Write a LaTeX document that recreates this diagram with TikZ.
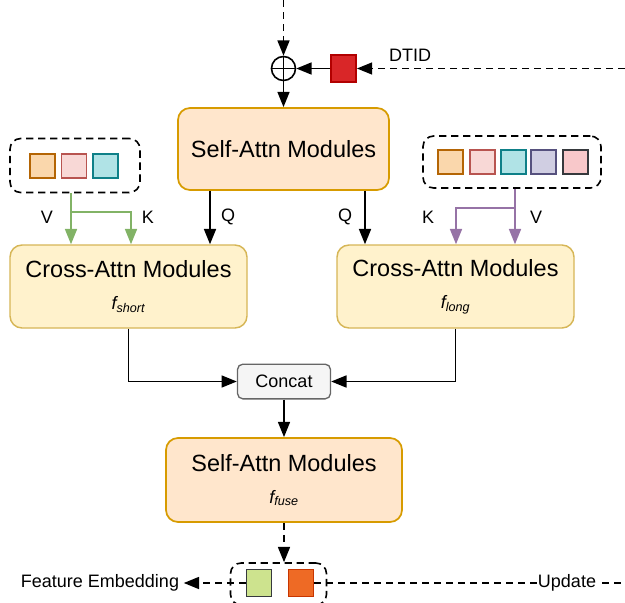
\documentclass[tikz,border=0pt]{standalone}
\usepackage{fontspec}
\setmainfont{Liberation Sans}
\usetikzlibrary{arrows.meta}

\definecolor{selfFill}{HTML}{FFE6CC}
\definecolor{selfLine}{HTML}{D79B00}
\definecolor{crossFill}{HTML}{FFF2CC}
\definecolor{crossLine}{HTML}{D6B656}
\definecolor{catFill}{HTML}{F5F5F5}
\definecolor{catLine}{HTML}{666666}
\definecolor{kvGreen}{HTML}{82B366}
\definecolor{kvPurple}{HTML}{9673A6}
\definecolor{tokOrange}{HTML}{FAD7AC}
\definecolor{tokOrangeLine}{HTML}{B46504}
\definecolor{tokPink}{HTML}{F8D8D6}
\definecolor{tokPinkLine}{HTML}{B85450}
\definecolor{tokTeal}{HTML}{B0E3E6}
\definecolor{tokTealLine}{HTML}{0E8088}
\definecolor{tokPurple}{HTML}{D0CEE2}
\definecolor{tokPurpleLine}{HTML}{56517E}
\definecolor{tokRose}{HTML}{F8C8CA}
\definecolor{tokDark}{HTML}{36393D}
\definecolor{tokLime}{HTML}{CDE38E}
\definecolor{tokFire}{HTML}{EE6A25}
\definecolor{tokFireLine}{HTML}{C73500}
\definecolor{dtidRed}{HTML}{D92628}
\definecolor{dtidLine}{HTML}{B20000}

\tikzset{
  module/.style={draw, rounded corners=9pt, line width=1.3pt, align=center,
    font=\fontsize{17.6}{21}\selectfont},
  selfmod/.style={module, fill=selfFill, draw=selfLine},
  crossmod/.style={module, fill=crossFill, draw=crossLine, line width=1.1pt},
  group/.style={draw, dash pattern=on 5.5pt off 3.5pt, rounded corners=8pt, line width=1.2pt},
  token/.style={draw, line width=1.2pt, minimum width=18.5pt, minimum height=18pt, inner sep=0pt},
  lbl/.style={font=\fontsize{13.5}{15}\selectfont},
  arr/.style={-{Triangle[length=11.5pt,width=9pt]}, line width=1.3pt},
  dashline/.style={dash pattern=on 5.5pt off 3.5pt, line width=1.3pt},
  oplus/.style={circle, draw, line width=1.2pt, minimum size=18pt, inner sep=0pt,
    path picture={\draw[line width=1.2pt] (path picture bounding box.north) -- (path picture bounding box.south)
      (path picture bounding box.west) -- (path picture bounding box.east);}},
}
\newcommand{\fsub}[1]{{\fontsize{13.5}{15}\selectfont\itshape f\textsubscript{#1}}}

\begin{document}
\begin{tikzpicture}[x=0.75pt,y=-0.75pt]
\useasboundingbox (0,0) rectangle (625,603);

% DTID injection
\coordinate (topin) at (283.5,0);
\coordinate (dtidin) at (625,68.5);
\node[oplus] (plus) at (283.5,68.5) {};
\node[draw=dtidLine, fill=dtidRed, line width=1.1pt, minimum width=19pt, minimum height=20pt, inner sep=0pt] (dtid) at (343.5,68.5) {};
\node[lbl] (dtidlbl) at (410,55) {DTID};

% modules
\node[selfmod, minimum width=158.25pt, minimum height=61.5pt] (sa1) at (283.5,149) {Self-Attn Modules};
\node[crossmod, minimum width=177.75pt, minimum height=62.25pt] (cs) at (128.5,286.5) {Cross-Attn Modules\\[3pt]\fsub{short}};
\node[crossmod, minimum width=177.75pt, minimum height=62.25pt] (cl) at (455.5,286.5) {Cross-Attn Modules\\[3pt]\fsub{long}};
\node[draw=catLine, fill=catFill, rounded corners=4pt, line width=1pt, minimum width=69.75pt, minimum height=26pt, lbl] (concat) at (284,381.5) {Concat};
\node[selfmod, minimum width=177pt, minimum height=63pt] (sa2) at (284,480) {Self-Attn Modules\\[3pt]\fsub{fuse}};

% short-term memory
\node[group, minimum width=97.5pt, minimum height=40.5pt] (mshort) at (75,165.5) {};
\node[token, fill=tokOrange, draw=tokOrangeLine] (s1) at (42.5,166) {};
\node[token, fill=tokPink, draw=tokPinkLine] (s2) at (74,166) {};
\node[token, fill=tokTeal, draw=tokTealLine] (s3) at (105.5,166) {};

% long-term memory
\node[group, minimum width=133.5pt, minimum height=39pt] (mlong) at (512,162) {};
\node[token, fill=tokOrange, draw=tokOrangeLine] (l1) at (450.5,162) {};
\node[token, fill=tokPink, draw=tokPinkLine] (l2) at (482.5,162) {};
\node[token, fill=tokTeal, draw=tokTealLine] (l3) at (513.5,162) {};
\node[token, fill=tokPurple, draw=tokPurpleLine] (l4) at (543.5,162) {};
\node[token, fill=tokRose, draw=tokDark] (l5) at (575.5,162) {};

% output
\node[group, minimum width=72pt, minimum height=31.5pt] (mout) at (278.5,584) {};
\node[token, fill=tokLime, draw=tokDark, minimum height=20pt] (gsq) at (259,583) {};
\node[token, fill=tokFire, draw=tokFireLine, minimum height=20pt] (osq) at (301,583) {};
\node[lbl] (feat) at (100,583) {Feature Embedding};
\coordinate (updend) at (625,583);

% x positions of the connectors
\coordinate (q1) at (210,0);
\coordinate (q2) at (365,0);
\coordinate (gv) at (71,212);
\coordinate (gk) at (131,212);
\coordinate (pv) at (515,208);
\coordinate (pk) at (456,208);

\draw[arr, dashline] (topin) -- (plus);
\draw[arr, dashline] (dtidin) -- (dtid);
\draw[arr] (dtid) -- (plus);
\draw[arr] (plus) -- (sa1);

\draw[arr, draw=kvGreen, -{Triangle[length=11.5pt,width=9pt,fill=kvGreen]}] (mshort.south -| gv) -- (cs.north -| gv);
\draw[arr, draw=kvGreen, -{Triangle[length=11.5pt,width=9pt,fill=kvGreen]}] (gv) -| (cs.north -| gk);
\draw[arr, draw=kvPurple, -{Triangle[length=11.5pt,width=9pt,fill=kvPurple]}] (mlong.south -| pv) -- (cl.north -| pv);
\draw[arr, draw=kvPurple, -{Triangle[length=11.5pt,width=9pt,fill=kvPurple]}] (pv) -| (cl.north -| pk);
\draw[arr] (sa1.south -| q1) -- (cs.north -| q1);
\draw[arr] (sa1.south -| q2) -- (cl.north -| q2);

\node[lbl] at (47,217) {V};
\node[lbl] at (148,217) {K};
\node[lbl] at (228,217) {Q};
\node[lbl] at (345,217) {Q};
\node[lbl] at (428,217) {K};
\node[lbl] at (536,217) {V};

\draw[arr] (cs.south) |- (concat.west);
\draw[arr] (cl.south) |- (concat.east);
\draw[arr] (concat) -- (sa2);
\draw[arr, dashline] (sa2.south) -- (sa2.south |- mout.north);

\draw[arr, dashline] (gsq) -- (feat);
\draw[dashline] (osq) -- (updend);
\node[lbl, fill=white, inner sep=1pt] (upd) at (567,583) {Update};
\end{tikzpicture}
\end{document}
